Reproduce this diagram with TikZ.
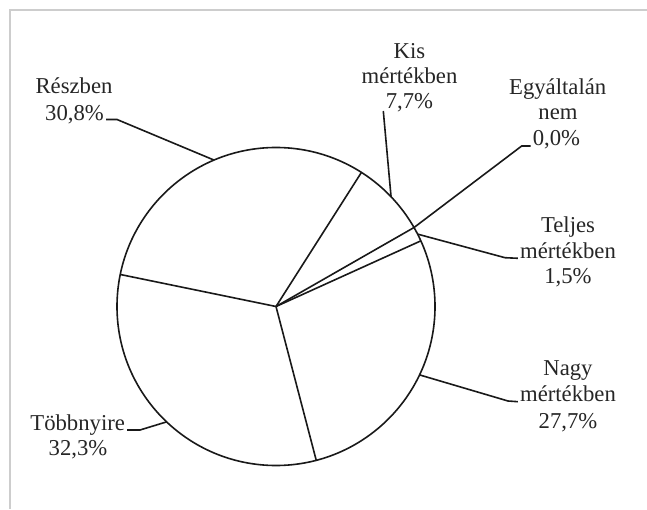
\documentclass[tikz,border=0pt]{standalone}
\usepackage{fontspec}
\setmainfont{Liberation Serif}
\usetikzlibrary{calc}
\begin{document}
\begin{tikzpicture}[x=1pt,y=1pt,
  lbl/.style={anchor=base,inner sep=0pt,text=black!85,font=\fontsize{22.7}{25.5}\selectfont},
  pieline/.style={draw=black!90,line width=1.6pt,line join=round},
  leader/.style={draw=black!90,line width=1.6pt,line join=miter},
  frameline/.style={draw={rgb,255:red,205;green,205;blue,205},line width=2pt}]
\useasboundingbox (0,0) rectangle (647,509);
\fill[white] (0,0) rectangle (647,509);
\draw[frameline] (647,499) -- (10,499) -- (10,0);
% pie
\coordinate (O) at (276,202.5);
\coordinate (b0) at ($(O)+(57.5:159)$);
\coordinate (b1) at ($(O)+(29.78:159)$);
\coordinate (b3) at ($(O)+(24.38:159)$);
\coordinate (b4) at ($(O)+(-75.34:159)$);
\coordinate (b5) at ($(O)+(168.38:159)$);
\draw[pieline] (O) circle (159);
\draw[pieline] (O) -- (b0);
\draw[pieline] (O) -- (b1);
\draw[pieline] (O) -- (b3);
\draw[pieline] (O) -- (b4);
\draw[pieline] (O) -- (b5);
% leader anchor points on the circle
\coordinate (mR) at ($(O)+(112.94:159)$);
\coordinate (mK) at ($(O)+(43.64:159)$);
\coordinate (mE) at ($(O)+(29.78:159)$);
\coordinate (mT) at ($(O)+(27.08:159)$);
\coordinate (mN) at ($(O)+(-25.48:159)$);
\coordinate (mB) at ($(O)+(-133.48:159)$);
% labels
\node[lbl] (r1) at (74,415) {Részben};
\node[lbl] (r2) at (74.5,388) {30,8\%};
\node[lbl] (k1) at (409.5,450.7) {Kis};
\node[lbl] (k2) at (409.5,425.5) {mértékben};
\node[lbl] (k3) at (409.5,400) {7,7\%};
\node[lbl] (e1) at (557.7,414.7) {Egyáltalán};
\node[lbl] (e2) at (558,389) {nem};
\node[lbl] (e3) at (556.5,363) {0,0\%};
\node[lbl] (t1) at (568,276.7) {Teljes};
\node[lbl] (t2) at (568,250.7) {mértékben};
\node[lbl] (t3) at (568,225.7) {1,5\%};
\node[lbl] (n1) at (568,134) {Nagy};
\node[lbl] (n2) at (568,107.3) {mértékben};
\node[lbl] (n3) at (568,80.7) {27,7\%};
\node[lbl] (bb1) at (77.7,79) {Többnyire};
\node[lbl] (bb2) at (78,54) {32,3\%};
% leaders
\coordinate (rE) at ($(r2.base east)+(2,1.5)$);
\coordinate (e3W) at ($(e3.base west)+(-2,0)$);
\coordinate (t2W) at ($(t2.base west)+(-2,0)$);
\coordinate (n2W) at ($(n2.base west)+(-2,0)$);
\coordinate (bbE) at ($(bb1.base east)+(2,0)$);
\draw[leader] (mR) -- (117,389.5) -- (rE);
\draw[leader] (mK) -- (383.3,398);
\draw[leader] (mE) -- (521.7,363) -- (e3W);
\draw[leader] (mT) -- (505,251.3) -- (t2W);
\draw[leader] (mN) -- (508,108) -- (n2W);
\draw[leader] (mB) -- (140,79) -- (bbE);
\end{tikzpicture}
\end{document}
